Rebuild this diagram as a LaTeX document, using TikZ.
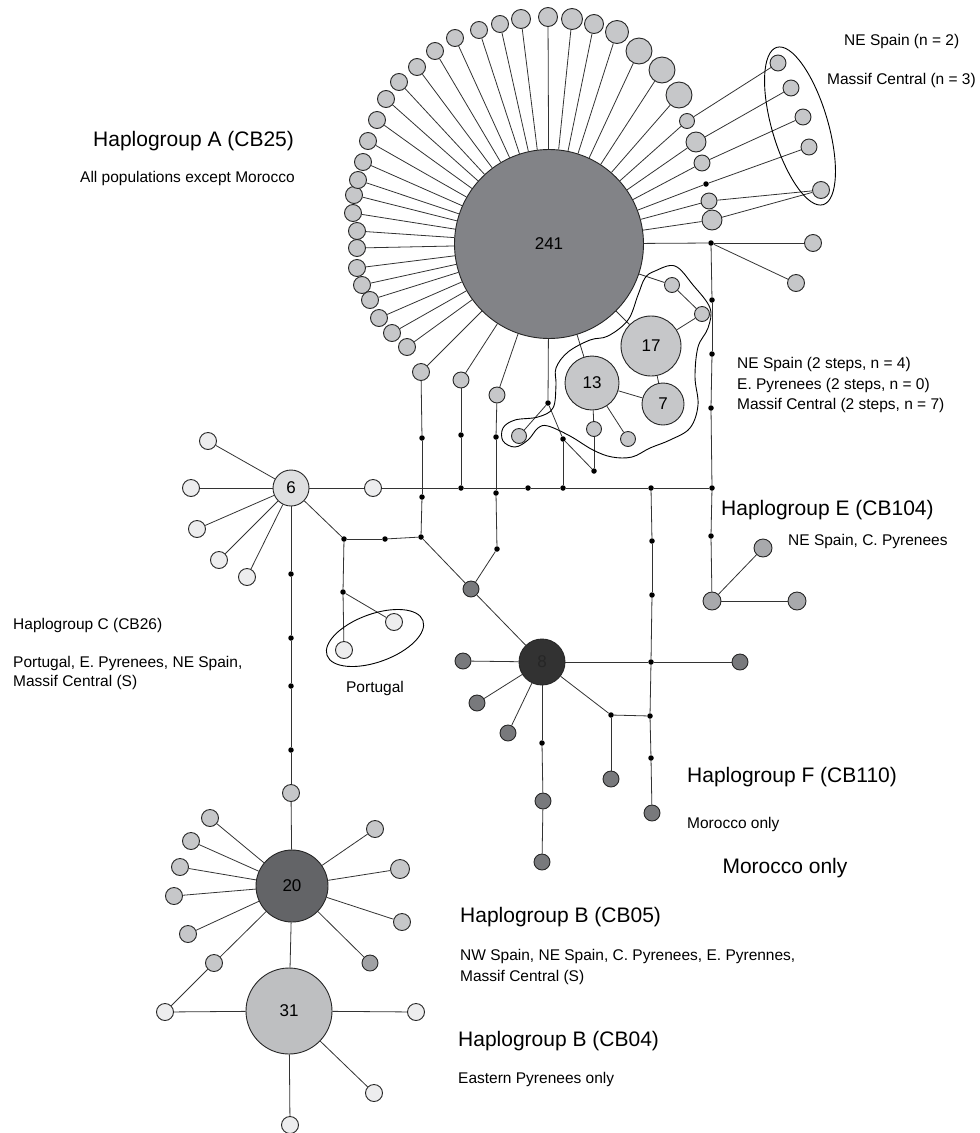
\documentclass[tikz,border=0pt]{standalone}
\usepackage{fontspec}
\setmainfont{Liberation Sans}
\definecolor{lg}{RGB}{198,199,201}
\definecolor{wh}{RGB}{237,237,238}
\definecolor{cA}{RGB}{130,131,135}
\definecolor{cB}{RGB}{99,100,103}
\definecolor{cD}{RGB}{50,50,50}
\definecolor{cM}{RGB}{120,121,124}
\definecolor{cE}{RGB}{168,169,172}
\definecolor{csix}{RGB}{222,223,224}
\definecolor{cthree}{RGB}{190,191,193}
\definecolor{cdk}{RGB}{160,161,164}
\begin{document}
\begin{tikzpicture}[x=1pt,y=-1pt,
 hap/.style={circle,draw=black!85,line width=0.9pt,inner sep=0pt,minimum size=#1},
 mut/.style={circle,fill=black,inner sep=0pt,minimum size=5.5pt},
 edge/.style={line width=0.8pt,draw=black!80},
 small/.style={anchor=west,inner sep=0pt,font=\fontsize{15.5}{19}\selectfont},
 big/.style={anchor=west,inner sep=0pt,font=\fontsize{21}{25}\selectfont},
 num/.style={font=\fontsize{17}{20}\selectfont}]
\useasboundingbox (0,0) rectangle (980,1133);

% ---------- Haplogroup A ----------
\node[hap=189,fill=cA,num] (A) at (549,244) {241};
\foreach \px/\py/\d [count=\i] in {357/268/17,362/285/17,370/300/17,379/318/17,392/333/17,407/347/17,
 357/248/17,357/231/17,353/213/17,354/195/17,358/180/17,363/162/17,368/141/17,377/120/17,386/99/17,
 399/82/17,417/67/17,435/51/17,455/38/17,479/30/17,500/24/17,521/19/19,548/17/19,572/19/21,594/24/19,
 617/32/23,639/51/26,662/70/26,679/95/26}{
 \node[hap=\d,fill=lg] (s\i) at (\px,\py) {};
 \draw[edge] (A) -- (s\i);
}
\node[hap=17,fill=lg] (cU) at (421,372) {};
\node[hap=16,fill=lg] (cV) at (461,380) {};
\node[hap=16,fill=lg] (cT) at (497,395) {};
\draw[edge] (A) -- (cU);
\draw[edge] (A) -- (cV);
\draw[edge] (A) -- (cT);

% right side of A
\node[hap=15,fill=lg] (r1) at (687,121) {};
\node[hap=20,fill=lg] (r2) at (696,142) {};
\node[hap=16,fill=lg] (r3) at (702,163) {};
\node[mut] (m1) at (706,184) {};
\node[hap=16,fill=lg] (r5) at (709,201) {};
\node[hap=20,fill=lg] (r6) at (712,220) {};
\node[hap=16,fill=lg] (R1) at (778,63) {};
\node[hap=16,fill=lg] (R2) at (791,88) {};
\node[hap=16,fill=lg] (R3) at (803,117) {};
\node[hap=16,fill=lg] (R4) at (809,147) {};
\node[hap=17,fill=lg] (R5) at (821,190) {};
\foreach \a/\b in {A/r1,r1/R1,A/r2,r2/R2,A/r3,r3/R3,A/m1,m1/R4,A/r5,r5/R5,A/r6,r6/R5}
 \draw[edge] (\a) -- (\b);
\draw[line width=0.9pt,rotate around={-73.6:(800,126)}] (800,126) ellipse [x radius=82pt,y radius=28pt];

\node[mut] (D) at (711,243) {};
\node[hap=17,fill=lg] (D1) at (813,243) {};
\node[hap=17,fill=lg] (D2) at (796,283) {};
\draw[edge] (A) -- (D);
\draw[edge] (D) -- (D1);
\draw[edge] (D) -- (D2);

% ---------- blob group ----------
\node[hap=54,fill=lg,num] (n13) at (592,383) {13};
\node[hap=60,fill=lg,num] (n17) at (651,346) {17};
\node[hap=42,fill=lg,num] (n7) at (663,404) {7};
\node[hap=15,fill=lg] (b1) at (672,285) {};
\node[hap=15,fill=lg] (b2) at (702,314) {};
\node[hap=15,fill=lg] (b3) at (594,429) {};
\node[hap=15,fill=lg] (b4) at (628,439) {};
\node[hap=15,fill=lg] (b5) at (519,436) {};
\node[mut] (d1) at (548,403) {};
\node[mut] (d2) at (563,439) {};
\node[mut] (d3) at (594,471) {};
\foreach \a/\b in {A/n13,A/n17,A/b1,b1/b2,b2/n17,n17/n7,n13/n7,n13/b3,n13/b4,A/d1,d1/b5,d1/d2,d2/d3,d3/b3}
 \draw[edge] (\a) -- (\b);
\draw[line width=0.9pt] plot[smooth cycle,tension=0.6] coordinates {
 (655,271) (675,266) (693,285) (710,308) (708,328) (698,347) (695,377) (698,405) (690,428)
 (670,440) (650,448) (632,457) (612,457) (593,450) (570,436) (548,426) (538,428) (528,440)
 (515,447) (503,441) (503,428) (515,420) (538,417) (553,408) (556,385) (556,368) (568,352)
 (590,340) (608,336) (628,320) (638,295) (645,278)};

% ---------- vertical x=712 and Haplogroup E ----------
\node[mut] (e1) at (712,300) {};
\node[mut] (e2) at (712,354) {};
\node[mut] (e3) at (711,408) {};
\node[mut] (h6) at (712,488) {};
\node[mut] (e4) at (711,536) {};
\node[hap=18,fill=cE] (E) at (712,601) {};
\node[hap=18,fill=cE] (E1) at (763,548) {};
\node[hap=18,fill=cE] (E2) at (797,601) {};
\foreach \a/\b in {D/e1,e1/e2,e2/e3,e3/h6,h6/e4,e4/E,E/E1,E/E2}
 \draw[edge] (\a) -- (\b);

% ---------- Haplogroup C (6) and horizontal backbone ----------
\node[hap=36,fill=csix,num] (six) at (291,488) {6};
\node[hap=17,fill=wh] (w1) at (373,488) {};
\node[mut] (h1) at (461,488) {};
\node[mut] (h2) at (528,488) {};
\node[mut] (h4) at (563,488) {};
\node[mut] (h5) at (651,488) {};
\foreach \a/\b in {six/w1,w1/h1,h1/h2,h2/h4,h4/h5,h5/h6,d2/h4}
 \draw[edge] (\a) -- (\b);
\foreach \px/\py [count=\i] in {208/441,191/488,197/529,219/560,247/577}{
 \node[hap=17,fill=wh] (c\i) at (\px,\py) {};
 \draw[edge] (six) -- (c\i);
}
% vertical x=461
\node[mut] (v1) at (461,435) {};
\draw[edge] (cV) -- (v1);
\draw[edge] (v1) -- (h1);
% vertical x=422
\node[mut] (u1) at (422,438) {};
\node[mut] (u2) at (422,497) {};
\node[mut] (u3) at (421,537) {};
\node[mut] (p2) at (385,539) {};
\node[mut] (p1) at (344,539) {};
\node[mut] (p3) at (343,592) {};
\node[hap=17,fill=wh] (P1) at (394,622) {};
\node[hap=17,fill=wh] (P2) at (344,650) {};
\foreach \a/\b in {cU/u1,u1/u2,u2/u3,u3/p2,p2/p1,six/p1,p1/p3,p3/P1,p3/P2}
 \draw[edge] (\a) -- (\b);
\draw[line width=0.9pt,rotate around={20:(375,638)}] (375,638) ellipse [x radius=51pt,y radius=24pt];
% vertical x=496
\node[mut] (t1) at (496,437) {};
\node[mut] (t2) at (496,493) {};
\node[mut] (t3) at (497,549) {};
\node[hap=16,fill=cM] (M) at (471,589) {};
\foreach \a/\b in {cT/t1,t1/t2,t2/t3,t3/M,u3/M}
 \draw[edge] (\a) -- (\b);

% ---------- Haplogroup F (8) ----------
\node[hap=46,fill=cD,text=black!85,num] (F) at (542,662) {8};
\draw[edge] (M) -- (F);
\node[mut] (f1) at (652,541) {};
\node[mut] (f2) at (652,595) {};
\node[mut] (f3) at (651,662) {};
\node[mut] (f4) at (650,716) {};
\node[mut] (f5) at (651,758) {};
\node[hap=16,fill=cM] (F1) at (652,813) {};
\node[hap=16,fill=cM] (F2) at (740,662) {};
\node[hap=16,fill=cM] (L1) at (463,661) {};
\node[hap=16,fill=cM] (L2) at (477,703) {};
\node[hap=16,fill=cM] (L3) at (508,733) {};
\node[mut] (g1) at (542,743) {};
\node[hap=16,fill=cM] (G1) at (543,801) {};
\node[hap=16,fill=cM] (G2) at (542,862) {};
\node[mut] (k1) at (611,715) {};
\node[hap=16,fill=cM] (K1) at (611,779) {};
\foreach \a/\b in {h5/f1,f1/f2,f2/f3,f3/f4,f4/f5,f5/F1,F/f3,f3/F2,F/L1,F/L2,F/L3,F/g1,g1/G1,G1/G2,F/k1,k1/f4,k1/K1}
 \draw[edge] (\a) -- (\b);

% ---------- Haplogroup B ----------
\node[mut] (q1) at (291,574) {};
\node[mut] (q2) at (291,638) {};
\node[mut] (q3) at (291,686) {};
\node[mut] (q4) at (291,750) {};
\node[hap=17,fill=lg] (Q) at (291,793) {};
\node[hap=72,fill=cB,num] (B20) at (292,886) {20};
\node[hap=86,fill=cthree,num] (B31) at (289,1011) {31};
\foreach \a/\b in {six/q1,q1/q2,q2/q3,q3/q4,q4/Q,Q/B20,B20/B31}
 \draw[edge] (\a) -- (\b);
\foreach \px/\py/\d [count=\i] in {210/818/17,191/841/17,180/867/17,174/896/17,188/934/17,214/963/17,375/829/17,400/869/19,402/922/17}{
 \node[hap=\d,fill=lg] (x\i) at (\px,\py) {};
 \draw[edge] (B20) -- (x\i);
}
\node[hap=16,fill=cdk] (x10) at (370,963) {};
\draw[edge] (B20) -- (x10);
\node[hap=17,fill=wh] (W1) at (165,1012) {};
\node[hap=17,fill=wh] (W2) at (416,1012) {};
\node[hap=17,fill=wh] (W3) at (374,1093) {};
\node[hap=17,fill=wh] (W4) at (290,1125) {};
\foreach \a/\b in {x6/W1,B31/W1,B31/W2,B31/W3,B31/W4}
 \draw[edge] (\a) -- (\b);

% ---------- texts ----------
\node[small] (t01) at (844,41) {NE Spain (n = 2)};
\node[small] (t02) at (827,80) {Massif Central (n = 3)};
\node[big] (t03) at (93,141) {Haplogroup A (CB25)};
\node[small] (t04) at (80,178) {All populations except Morocco};
\node[small] (t05) at (737,364) {NE Spain (2 steps, n = 4)};
\node[small] (t06) at (737,385) {E. Pyrenees (2 steps, n = 0)};
\node[small] (t07) at (737,405) {Massif Central (2 steps, n = 7)};
\node[big] (t08) at (721,510) {Haplogroup E (CB104)};
\node[small] (t09) at (788,541) {NE Spain, C. Pyrenees};
\node[small] (t10) at (13,625) {Haplogroup C (CB26)};
\node[small] (t11) at (13,663) {Portugal, E. Pyrenees, NE Spain,};
\node[small] (t12) at (13,682) {Massif Central (S)};
\node[small,anchor=center] (t13) at (375,688) {Portugal};
\node[big] (t14) at (687,777) {Haplogroup F (CB110)};
\node[small] (t15) at (687,824) {Morocco only};
\node[big,anchor=center] (t16) at (785,868) {Morocco only};
\node[big] (t17) at (460,917) {Haplogroup B (CB05)};
\node[small] (t18) at (460,956) {NW Spain, NE Spain, C. Pyrenees, E. Pyrennes,};
\node[small] (t19) at (460,977) {Massif Central (S)};
\node[big] (t20) at (458,1041) {Haplogroup B (CB04)};
\node[small] (t21) at (458,1079) {Eastern Pyrenees only};
\end{tikzpicture}
\end{document}
